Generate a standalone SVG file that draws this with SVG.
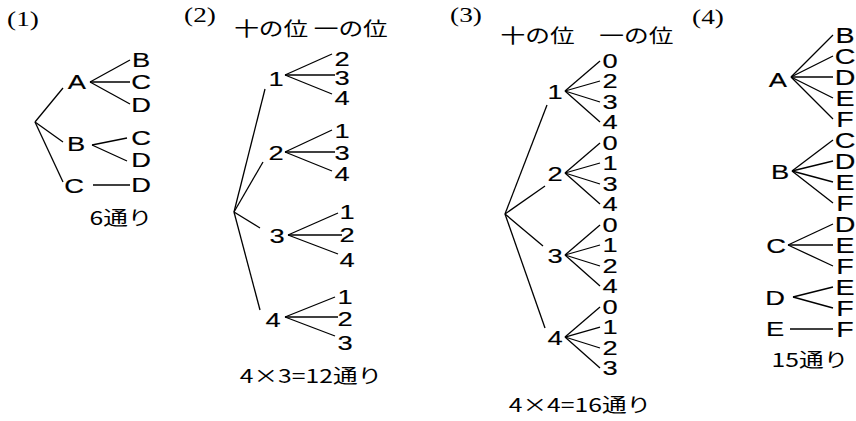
<svg xmlns="http://www.w3.org/2000/svg" width="856" height="421" viewBox="0 0 856 421">
<style>
text { text-anchor: middle; fill: #000; transform-box: fill-box; transform-origin: center; transform: scaleX(1.3); }
.l { font-family: "Liberation Sans", Arial, sans-serif; font-size: 21px; stroke: #000; stroke-width: 0.15; }
.b { font-family: "Liberation Sans", Arial, sans-serif; font-size: 22px; stroke: #000; stroke-width: 0.15; }
.s { font-family: "Liberation Serif", "Times New Roman", serif; font-size: 21px; }
.j { font-family: "Noto Sans CJK JP", sans-serif; font-size: 19px; }
.h { font-family: "Noto Sans CJK JP", sans-serif; font-size: 19px; }
.c line { stroke: #000; stroke-width: 1.3; fill: none; }
</style>
<rect width="856" height="421" fill="#fff"/>
<g class="c" id="connectors">
<line x1="35" y1="122" x2="63" y2="88"/>
<line x1="35" y1="122" x2="63" y2="142"/>
<line x1="35" y1="122" x2="63" y2="182"/>
<line x1="90" y1="82" x2="130" y2="60"/>
<line x1="90" y1="82" x2="130" y2="82"/>
<line x1="90" y1="82" x2="130" y2="104"/>
<line x1="92" y1="145" x2="127" y2="138"/>
<line x1="92" y1="145" x2="127" y2="161"/>
<line x1="93" y1="185" x2="130" y2="185"/>
<line x1="234" y1="212" x2="265" y2="89"/>
<line x1="234" y1="212" x2="263" y2="162"/>
<line x1="234" y1="212" x2="260" y2="228"/>
<line x1="234" y1="212" x2="260" y2="310"/>
<line x1="285" y1="75" x2="332" y2="54"/>
<line x1="285" y1="75" x2="335" y2="75"/>
<line x1="285" y1="75" x2="332" y2="94"/>
<line x1="285" y1="152" x2="332" y2="130"/>
<line x1="285" y1="152" x2="335" y2="152"/>
<line x1="285" y1="152" x2="332" y2="171"/>
<line x1="288" y1="235" x2="338" y2="213"/>
<line x1="288" y1="235" x2="342" y2="235"/>
<line x1="288" y1="235" x2="338" y2="254"/>
<line x1="285" y1="317" x2="335" y2="297"/>
<line x1="285" y1="317" x2="338" y2="317"/>
<line x1="285" y1="317" x2="335" y2="336"/>
<line x1="505" y1="214" x2="547" y2="105"/>
<line x1="505" y1="214" x2="545" y2="186"/>
<line x1="505" y1="214" x2="543" y2="246"/>
<line x1="505" y1="214" x2="545" y2="328"/>
<line x1="565" y1="91" x2="600" y2="61"/>
<line x1="565" y1="91" x2="600" y2="81"/>
<line x1="565" y1="91" x2="600" y2="102"/>
<line x1="565" y1="91" x2="600" y2="122"/>
<line x1="565" y1="173" x2="600" y2="143"/>
<line x1="565" y1="173" x2="600" y2="163"/>
<line x1="565" y1="173" x2="600" y2="184"/>
<line x1="565" y1="173" x2="600" y2="204"/>
<line x1="565" y1="255" x2="600" y2="225"/>
<line x1="565" y1="255" x2="600" y2="245"/>
<line x1="565" y1="255" x2="600" y2="266"/>
<line x1="565" y1="255" x2="600" y2="286"/>
<line x1="565" y1="337" x2="600" y2="307"/>
<line x1="565" y1="337" x2="600" y2="327"/>
<line x1="565" y1="337" x2="600" y2="348"/>
<line x1="565" y1="337" x2="600" y2="368"/>
<line x1="791" y1="77" x2="833" y2="35"/>
<line x1="791" y1="77" x2="833" y2="56"/>
<line x1="791" y1="77" x2="833" y2="77"/>
<line x1="791" y1="77" x2="833" y2="98"/>
<line x1="791" y1="77" x2="833" y2="119"/>
<line x1="792" y1="171" x2="833" y2="140"/>
<line x1="792" y1="171" x2="833" y2="161"/>
<line x1="792" y1="171" x2="833" y2="182"/>
<line x1="792" y1="171" x2="833" y2="203"/>
<line x1="788" y1="245" x2="833" y2="224"/>
<line x1="788" y1="245" x2="833" y2="245"/>
<line x1="788" y1="245" x2="833" y2="266"/>
<line x1="793" y1="297" x2="833" y2="287"/>
<line x1="793" y1="297" x2="833" y2="308"/>
<line x1="790" y1="329" x2="833" y2="329"/>
</g>

<text class="s" x="23" y="26">(1)</text>
<text class="s" x="200" y="22">(2)</text>
<text class="s" x="466" y="22">(3)</text>
<text class="s" x="708" y="24">(4)</text>

<g id="p1-A"><text class="l" x="77" y="89">A</text></g>
<g id="p1-B"><text class="l" x="76" y="151">B</text></g>
<g id="p1-C"><text class="l" x="74" y="193">C</text></g>
<g id="p1-AB"><text class="l" x="141" y="67">B</text></g>
<g id="p1-AC"><text class="l" x="141" y="89">C</text></g>
<g id="p1-AD"><text class="l" x="141" y="112">D</text></g>
<g id="p1-BC"><text class="l" x="141" y="145">C</text></g>
<g id="p1-BD"><text class="l" x="141" y="167">D</text></g>
<g id="p1-CD"><text class="l" x="141" y="192">D</text></g>
<g id="p1-total"><text class="j" x="121" y="225">6通り</text></g>

<g id="p2-head"><text class="h" x="311" y="36">十の位 一の位</text></g>
<g id="p2-1"><text class="l" x="276" y="86">1</text></g>
<g id="p2-12"><text class="l" x="342" y="66">2</text></g>
<g id="p2-13"><text class="l" x="342" y="85">3</text></g>
<g id="p2-14"><text class="l" x="342" y="105">4</text></g>
<g id="p2-2"><text class="l" x="276" y="160">2</text></g>
<g id="p2-21"><text class="l" x="342" y="138">1</text></g>
<g id="p2-23"><text class="l" x="342" y="160">3</text></g>
<g id="p2-24"><text class="l" x="342" y="181">4</text></g>
<g id="p2-3"><text class="l" x="277" y="243">3</text></g>
<g id="p2-31"><text class="l" x="347" y="219">1</text></g>
<g id="p2-32"><text class="l" x="347" y="242">2</text></g>
<g id="p2-34"><text class="l" x="347" y="267">4</text></g>
<g id="p2-4"><text class="l" x="273" y="327">4</text></g>
<g id="p2-41"><text class="l" x="345" y="304">1</text></g>
<g id="p2-42"><text class="l" x="345" y="326">2</text></g>
<g id="p2-43"><text class="l" x="345" y="350">3</text></g>
<g id="p2-total"><text class="j" x="311" y="383">4×3=12通り</text></g>

<g id="p3-head"><text class="h" x="587" y="43">十の位　一の位</text></g>
<g id="p3-1"><text class="l" x="555" y="99">1</text></g>
<g id="p3-10"><text class="l" x="610" y="68">0</text></g>
<g id="p3-12"><text class="l" x="610" y="88">2</text></g>
<g id="p3-13"><text class="l" x="610" y="109">3</text></g>
<g id="p3-14"><text class="l" x="610" y="129">4</text></g>
<g id="p3-2"><text class="l" x="555" y="181">2</text></g>
<g id="p3-20"><text class="l" x="610" y="150">0</text></g>
<g id="p3-21"><text class="l" x="610" y="170">1</text></g>
<g id="p3-23"><text class="l" x="610" y="191">3</text></g>
<g id="p3-24"><text class="l" x="610" y="211">4</text></g>
<g id="p3-3"><text class="l" x="555" y="263">3</text></g>
<g id="p3-30"><text class="l" x="610" y="232">0</text></g>
<g id="p3-31"><text class="l" x="610" y="252">1</text></g>
<g id="p3-32"><text class="l" x="610" y="273">2</text></g>
<g id="p3-34"><text class="l" x="610" y="293">4</text></g>
<g id="p3-4"><text class="l" x="555" y="345">4</text></g>
<g id="p3-40"><text class="l" x="610" y="314">0</text></g>
<g id="p3-41"><text class="l" x="610" y="334">1</text></g>
<g id="p3-42"><text class="l" x="610" y="355">2</text></g>
<g id="p3-43"><text class="l" x="610" y="375">3</text></g>
<g id="p3-total"><text class="j" x="580" y="412">4×4=16通り</text></g>

<g id="p4-A"><text class="l" x="778" y="87">A</text></g>
<g id="p4-AB"><text class="b" x="845" y="43">B</text></g>
<g id="p4-AC"><text class="b" x="845" y="64">C</text></g>
<g id="p4-AD"><text class="b" x="845" y="85">D</text></g>
<g id="p4-AE"><text class="b" x="845" y="106">E</text></g>
<g id="p4-AF"><text class="b" x="845" y="127">F</text></g>
<g id="p4-B"><text class="l" x="780" y="179">B</text></g>
<g id="p4-BC"><text class="b" x="845" y="148">C</text></g>
<g id="p4-BD"><text class="b" x="845" y="169">D</text></g>
<g id="p4-BE"><text class="b" x="845" y="190">E</text></g>
<g id="p4-BF"><text class="b" x="845" y="211">F</text></g>
<g id="p4-C"><text class="l" x="776" y="253">C</text></g>
<g id="p4-CD"><text class="b" x="845" y="232">D</text></g>
<g id="p4-CE"><text class="b" x="845" y="253">E</text></g>
<g id="p4-CF"><text class="b" x="845" y="274">F</text></g>
<g id="p4-D"><text class="l" x="775" y="305">D</text></g>
<g id="p4-DE"><text class="b" x="845" y="295">E</text></g>
<g id="p4-DF"><text class="b" x="845" y="316">F</text></g>
<g id="p4-E"><text class="l" x="775" y="336">E</text></g>
<g id="p4-EF"><text class="b" x="845" y="337">F</text></g>
<g id="p4-total"><text class="j" x="810" y="367">15通り</text></g>
</svg>
